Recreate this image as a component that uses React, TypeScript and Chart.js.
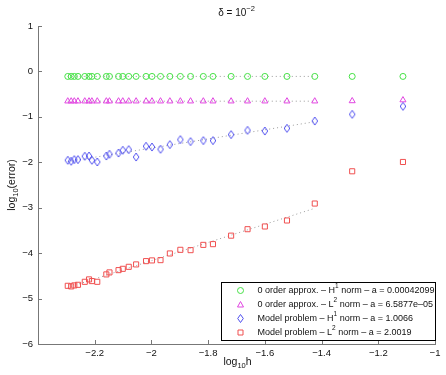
import React, { useEffect, useRef } from 'react';
import { Chart, registerables } from 'chart.js';
Chart.register(...registerables);

const logH = [-2.295, -2.283, -2.272, -2.259, -2.235, -2.220, -2.210, -2.191, -2.159, -2.148, -2.116, -2.101, -2.080, -2.054, -2.019, -1.998, -1.968, -1.935, -1.898, -1.862, -1.817, -1.783, -1.719, -1.661, -1.600, -1.522, -1.424, -1.292, -1.113];
const order0H1 = [-0.11, -0.11, -0.11, -0.11, -0.11, -0.11, -0.11, -0.11, -0.11, -0.11, -0.11, -0.11, -0.11, -0.11, -0.11, -0.11, -0.11, -0.11, -0.11, -0.11, -0.11, -0.11, -0.11, -0.11, -0.11, -0.11, -0.11, -0.11, -0.11];
const order0L2 = [-0.655, -0.655, -0.655, -0.655, -0.655, -0.655, -0.655, -0.655, -0.655, -0.655, -0.655, -0.655, -0.655, -0.655, -0.655, -0.655, -0.655, -0.655, -0.655, -0.655, -0.655, -0.655, -0.655, -0.655, -0.655, -0.655, -0.655, -0.65, -0.63];
const modelH1 = [-1.956, -1.978, -1.941, -1.941, -1.868, -1.862, -1.956, -1.993, -1.862, -1.824, -1.796, -1.736, -1.721, -1.884, -1.648, -1.664, -1.714, -1.611, -1.501, -1.545, -1.523, -1.523, -1.391, -1.297, -1.312, -1.253, -1.092, -0.945, -0.769];
const modelL2 = [-4.719, -4.732, -4.710, -4.697, -4.631, -4.578, -4.615, -4.631, -4.468, -4.424, -4.374, -4.345, -4.301, -4.248, -4.176, -4.160, -4.154, -4.007, -3.927, -3.934, -3.818, -3.802, -3.615, -3.473, -3.413, -3.281, -2.908, -2.198, -1.993];
const fitCount = 27;
const slopes = [0.00042099, 6.5877e-05, 1.0066, 2.0019];
const legendParts = [
  ['0 order approx. \u2013 H', '1', ' norm \u2013 a = 0.00042099'],
  ['0 order approx. \u2013 L', '2', ' norm \u2013 a = 6.5877e\u201305'],
  ['Model problem \u2013 H', '1', ' norm \u2013 a = 1.0066'],
  ['Model problem \u2013 L', '2', ' norm \u2013 a = 2.0019'],
];
const xTickVals = [-2.4, -2.2, -2.0, -1.8, -1.6, -1.4, -1.2, -1.0];
const yTickVals = [-6, -5, -4, -3, -2, -1, 0, 1];
const colors = ['rgb(70,225,70)', 'rgb(225,70,225)', 'rgb(80,80,240)', 'rgb(240,80,80)'];

const FONT = '"Liberation Sans", Arial, Helvetica, sans-serif';

function fmt(v: number) {
  return String(Number(v.toFixed(1))).replace('-', '\u2212');
}

function makeDiamond(color: string) {
  const c = document.createElement('canvas');
  c.width = 8; c.height = 10;
  const g = c.getContext('2d')!;
  g.strokeStyle = color; g.lineWidth = 1;
  g.beginPath();
  g.moveTo(4, 1); g.lineTo(6.8, 5); g.lineTo(4, 9); g.lineTo(1.2, 5); g.closePath();
  g.stroke();
  return c;
}

function fitLine(ys: number[], a: number) {
  const xs = logH.slice(0, fitCount);
  const yv = ys.slice(0, fitCount);
  const mx = xs.reduce((s, v) => s + v, 0) / xs.length;
  const my = yv.reduce((s, v) => s + v, 0) / yv.length;
  const b = my - a * mx;
  return [xs[0], xs[xs.length - 1]].map(x => ({ x, y: a * x + b }));
}

function drawMixed(ctx: CanvasRenderingContext2D, parts: { t: string; s: number; dy: number }[], x: number, y: number, align: 'left' | 'center') {
  let total = 0;
  parts.forEach(p => { ctx.font = `${p.s}px ${FONT}`; total += ctx.measureText(p.t).width; });
  let cx = align === 'center' ? x - total / 2 : x;
  ctx.textAlign = 'left';
  ctx.textBaseline = 'middle';
  parts.forEach(p => {
    ctx.font = `${p.s}px ${FONT}`;
    ctx.fillText(p.t, cx, y + p.dy);
    cx += ctx.measureText(p.t).width;
  });
}

const decorPlugin = {
  id: 'decor',
  afterDraw(chart: any) {
    const ctx: CanvasRenderingContext2D = chart.ctx;
    const { left, right, top, bottom } = chart.chartArea;
    const xs = chart.scales.x, ys = chart.scales.y;
    ctx.save();
    ctx.strokeStyle = '#777';
    ctx.lineWidth = 1;
    ctx.beginPath();
    xTickVals.forEach(v => {
      const px = Math.round(xs.getPixelForValue(v)) + 0.5;
      ctx.moveTo(px, bottom); ctx.lineTo(px, bottom - 4);
    });
    yTickVals.forEach(v => {
      const py = Math.round(ys.getPixelForValue(v)) + 0.5;
      ctx.moveTo(left, py); ctx.lineTo(left + 4, py);
    });
    ctx.stroke();

    ctx.fillStyle = '#111';
    const cx = (left + right) / 2;
    drawMixed(ctx, [{ t: '\u03b4 = 10', s: 10, dy: 0 }, { t: '\u22122', s: 7.5, dy: -4 }], cx, 13, 'center');
    drawMixed(ctx, [{ t: 'log', s: 10.5, dy: 0 }, { t: '10', s: 7.5, dy: 4 }, { t: 'h', s: 10.5, dy: 0 }], cx + 1, 362, 'center');
    ctx.save();
    ctx.translate(12, (top + bottom) / 2);
    ctx.rotate(-Math.PI / 2);
    drawMixed(ctx, [{ t: 'log', s: 10.5, dy: 0 }, { t: '10', s: 7.5, dy: 4 }, { t: '(error)', s: 10.5, dy: 0 }], 0, 0, 'center');
    ctx.restore();

    // legend
    const bw = 214, bh = 58;
    const bx = Math.round(right - bw) + 0.5, by = Math.round(bottom - 4 - bh) + 0.5;
    ctx.fillStyle = '#fff';
    ctx.fillRect(bx, by, bw, bh);
    ctx.strokeStyle = '#000';
    ctx.strokeRect(bx, by, bw, bh);
    const styles = ['circle', 'triangle', 'diamond', 'rect'];
    legendParts.forEach((p, i) => {
      const ly = by + 8 + i * 14;
      const mx = bx + 19;
      ctx.strokeStyle = colors[i];
      ctx.lineWidth = 1;
      ctx.beginPath();
      if (styles[i] === 'circle') ctx.arc(mx, ly, 3, 0, Math.PI * 2);
      else if (styles[i] === 'triangle') { ctx.moveTo(mx, ly - 3); ctx.lineTo(mx + 3, ly + 2.5); ctx.lineTo(mx - 3, ly + 2.5); ctx.closePath(); }
      else if (styles[i] === 'diamond') { ctx.moveTo(mx, ly - 4); ctx.lineTo(mx + 2.8, ly); ctx.lineTo(mx, ly + 4); ctx.lineTo(mx - 2.8, ly); ctx.closePath(); }
      else ctx.rect(mx - 2.5, ly - 2.5, 5, 5);
      ctx.stroke();
      ctx.fillStyle = '#111';
      drawMixed(ctx, [{ t: p[0], s: 9, dy: 0 }, { t: p[1], s: 6.5, dy: -4 }, { t: p[2], s: 9, dy: 0 }], bx + 36, ly, 'left');
    });
    ctx.restore();
  },
};

export default function App() {
  const ref = useRef<HTMLCanvasElement>(null);
  useEffect(() => {
    const series = [order0H1, order0L2, modelH1, modelL2];
    const pointStyles: any[] = ['circle', 'triangle', makeDiamond(colors[2]), 'rect'];
    const radii = [3, 3.5, 4, 3.6];
    const markerSets = series.map((ys, i) => ({
      type: 'scatter' as const,
      data: logH.map((x, j) => ({ x, y: ys[j] })),
      showLine: false,
      pointStyle: pointStyles[i],
      pointRadius: radii[i],
      pointBorderColor: colors[i],
      pointBackgroundColor: 'rgba(0,0,0,0)',
      pointBorderWidth: 1,
      borderColor: colors[i],
    }));
    const fitSets = series.map((ys, i) => ({
      type: 'line' as const,
      data: fitLine(ys, slopes[i]),
      borderColor: '#9a9a9a',
      borderWidth: 1,
      borderDash: [1, 3],
      pointRadius: 0,
      fill: false,
    }));
    const tickFont = { family: FONT, size: 9.5 };
    const chart = new Chart(ref.current!, {
      type: 'scatter',
      data: { datasets: [...markerSets, ...fitSets] as any },
      options: {
        responsive: false,
        animation: false,
        devicePixelRatio: 1,
        layout: { padding: { left: 0, top: 26, right: 11, bottom: 0 } },
        plugins: { legend: { display: false }, tooltip: { enabled: false }, title: { display: false } },
        scales: {
          x: {
            type: 'linear', min: -2.4, max: -1,
            afterFit: (s: any) => { s.height = 31; },
            ticks: { stepSize: 0.2, color: '#111', font: tickFont, padding: 4, maxRotation: 0, autoSkip: false,
              callback: (v: any) => (v < -2.35 ? '' : fmt(Number(v))) },
            grid: { display: true, drawOnChartArea: false, drawTicks: false },
            border: { display: true, color: '#777' },
          },
          y: {
            type: 'linear', min: -6, max: 1,
            afterFit: (s: any) => { s.width = 38; },
            ticks: { stepSize: 1, color: '#111', font: tickFont, padding: 5, autoSkip: false,
              callback: (v: any) => fmt(Number(v)) },
            grid: { display: true, drawOnChartArea: false, drawTicks: false },
            border: { display: true, color: '#777' },
          },
        },
      },
      plugins: [decorPlugin],
    });
    return () => chart.destroy();
  }, []);
  return (
    <div style={{ position: 'absolute', left: 0, top: 0, width: 446, height: 375, background: '#fff' }}>
      <canvas ref={ref} width={446} height={375} />
    </div>
  );
}
